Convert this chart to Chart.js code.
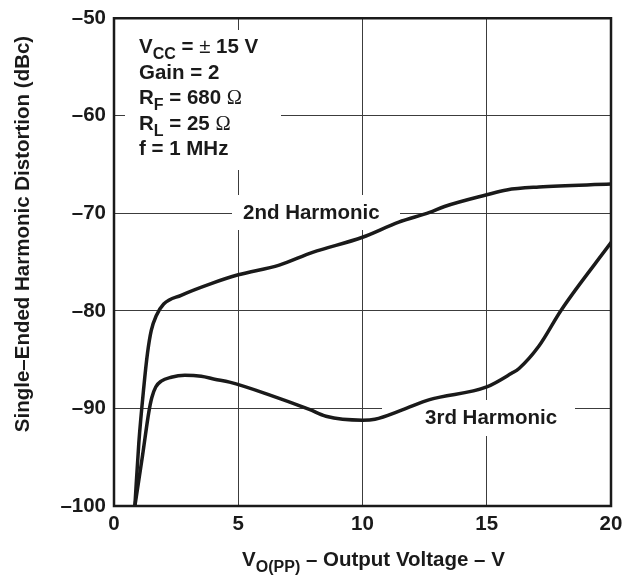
<!DOCTYPE html>
<html>
<head>
<meta charset="utf-8">
<script src="https://cdn.jsdelivr.net/npm/chart.js@4.4.1/dist/chart.umd.min.js"></script>
<style>
  html, body { margin: 0; padding: 0; background: #fff; }
  #wrap { width: 639px; height: 576px; }
</style>
</head>
<body>
<div id="wrap"><canvas id="c" width="639" height="576"></canvas></div>
<script>
// ---- Data ----
const xTicks = [0, 5, 10, 15, 20];
const yTicks = [-100, -90, -80, -70, -60, -50];

const h2Voltage = [0.84, 1.0, 1.2, 1.35, 1.5, 1.7, 2.0, 2.7, 3.91, 5.0, 6.65, 7.99, 10.0, 11.46, 12.7, 13.3, 15.0, 15.8, 17.1, 20.0];
const h2Dbc     = [-100, -93.5, -87.8, -84.3, -82.0, -80.5, -79.3, -78.4, -77.2, -76.3, -75.3, -74.0, -72.45, -70.9, -69.9, -69.3, -68.1, -67.6, -67.3, -67.0];

const h3Voltage = [0.84, 1.15, 1.4, 1.52, 1.68, 1.9, 2.3, 2.85, 3.51, 4.05, 4.65, 6.25, 7.86, 8.53, 10.0, 10.5, 11.6, 12.7, 15.0, 16.0, 16.3, 17.1, 18.0, 20.0];
const h3Dbc     = [-100, -94.8, -90.4, -88.9, -87.8, -87.2, -86.8, -86.6, -86.7, -87.0, -87.3, -88.6, -90.1, -90.8, -91.2, -91.1, -90.15, -89.1, -87.8, -86.4, -85.9, -83.6, -79.9, -73.0];

const seriesNames = ['2nd Harmonic', '3rd Harmonic'];
const xTitle = ' \u2013 Output Voltage \u2013 V';
const yTitle = 'Single\u2013Ended Harmonic Distortion (dBc)';

const toPoints = (xs, ys) => xs.map((x, i) => ({ x: x, y: ys[i] }));

const FONT = '"Liberation Sans", Arial, Helvetica, sans-serif';
const INK = '#1a1a1a';
const S = 20.5;

function drawRich(ctx, parts, x, y, size) {
  let cx = x;
  for (const p of parts) {
    const sz = p.sub ? Math.round(size * 0.78) : size;
    ctx.font = (p.weight || 'bold') + ' ' + sz + 'px ' + (p.family || FONT);
    const dy = p.sub ? size * 0.28 : 0;
    ctx.fillText(p.t, cx, y + dy);
    cx += ctx.measureText(p.t).width;
  }
  return cx - x;
}
function richWidth(ctx, parts, size) {
  let w = 0;
  for (const p of parts) {
    const sz = p.sub ? Math.round(size * 0.78) : size;
    ctx.font = (p.weight || 'bold') + ' ' + sz + 'px ' + (p.family || FONT);
    w += ctx.measureText(p.t).width;
  }
  return w;
}

const annotations = {
  id: 'annotations',
  beforeDatasetsDraw(chart) {
    const ctx = chart.ctx;
    ctx.save();
    ctx.fillStyle = '#fff';
    ctx.fillRect(125, 30, 156, 140);
    ctx.fillRect(232, 195, 168, 35);
    ctx.fillRect(382, 400, 193, 36);
    ctx.restore();
  },
  afterDraw(chart) {
    const ctx = chart.ctx;
    const ca = chart.chartArea;
    ctx.save();
    ctx.strokeStyle = INK;
    ctx.lineWidth = 2.5;
    ctx.strokeRect(ca.left, ca.top, ca.right - ca.left, ca.bottom - ca.top);

    ctx.fillStyle = INK;
    ctx.textBaseline = 'alphabetic';
    ctx.textAlign = 'left';
    const serif = '"Liberation Serif", "Times New Roman", serif';
    const lines = [
      [{t:'V'}, {t:'CC', sub:true}, {t:' = '}, {t:'±', weight:'normal'}, {t:' 15 V'}],
      [{t:'Gain = 2'}],
      [{t:'R'}, {t:'F', sub:true}, {t:' = 680 '}, {t:'Ω', weight:'normal', family: serif}],
      [{t:'R'}, {t:'L', sub:true}, {t:' = 25 '}, {t:'Ω', weight:'normal', family: serif}],
      [{t:'f = 1 MHz'}]
    ];
    lines.forEach((ln, i) => drawRich(ctx, ln, 139, 53 + i * 25.6, S));

    drawRich(ctx, [{t: seriesNames[0]}], 243, 219, S);
    drawRich(ctx, [{t: seriesNames[1]}], 425, 424, S);

    const xt = [{t:'V'}, {t:'O(PP)', sub:true}, {t: xTitle}];
    const w = richWidth(ctx, xt, S);
    drawRich(ctx, xt, 373.5 - w / 2, 566, S);

    // y axis title
    ctx.translate(23, 234);
    ctx.rotate(-Math.PI / 2);
    ctx.textAlign = 'center';
    ctx.textBaseline = 'middle';
    ctx.font = 'bold ' + S + 'px ' + FONT;
    ctx.fillText(yTitle, 0, 0);
    ctx.restore();
  }
};

const ds = (label, xs, ys) => ({
  label: label,
  data: toPoints(xs, ys),
  borderColor: INK,
  borderWidth: 3.5,
  pointRadius: 0,
  fill: false,
  cubicInterpolationMode: 'monotone',
  borderCapStyle: 'round',
  borderJoinStyle: 'round'
});

new Chart(document.getElementById('c'), {
  type: 'line',
  data: {
    datasets: [
      ds(seriesNames[0], h2Voltage, h2Dbc),
      ds(seriesNames[1], h3Voltage, h3Dbc)
    ]
  },
  options: {
    responsive: false,
    animation: false,
    devicePixelRatio: 1,
    layout: { padding: { left: 0, right: 28, top: 11, bottom: 0 } },
    plugins: { legend: { display: false }, tooltip: { enabled: false } },
    scales: {
      x: {
        type: 'linear',
        min: 0, max: 20,
        afterBuildTicks: (s) => { s.ticks = xTicks.map(v => ({ value: v })); },
        afterFit: (s) => { s.height = 70; },
        grid: { color: '#3c3c3c', lineWidth: 1, drawTicks: false },
        border: { display: false },
        ticks: {
          padding: 8,
          color: INK,
          font: { family: FONT, size: S, weight: 'bold', lineHeight: 1 },
          maxRotation: 0,
          callback: (v) => String(v)
        }
      },
      y: {
        type: 'linear',
        min: -100, max: -50,
        afterBuildTicks: (s) => { s.ticks = yTicks.map(v => ({ value: v })); },
        afterFit: (s) => { s.width = 114; },
        grid: { color: '#3c3c3c', lineWidth: 1, drawTicks: false },
        border: { display: false },
        ticks: {
          padding: 8,
          color: INK,
          font: { family: FONT, size: S, weight: 'bold', lineHeight: 1 },
          callback: (v) => String(v).replace('-', '\u2013')
        }
      }
    }
  },
  plugins: [annotations]
});
</script>
</body>
</html>
